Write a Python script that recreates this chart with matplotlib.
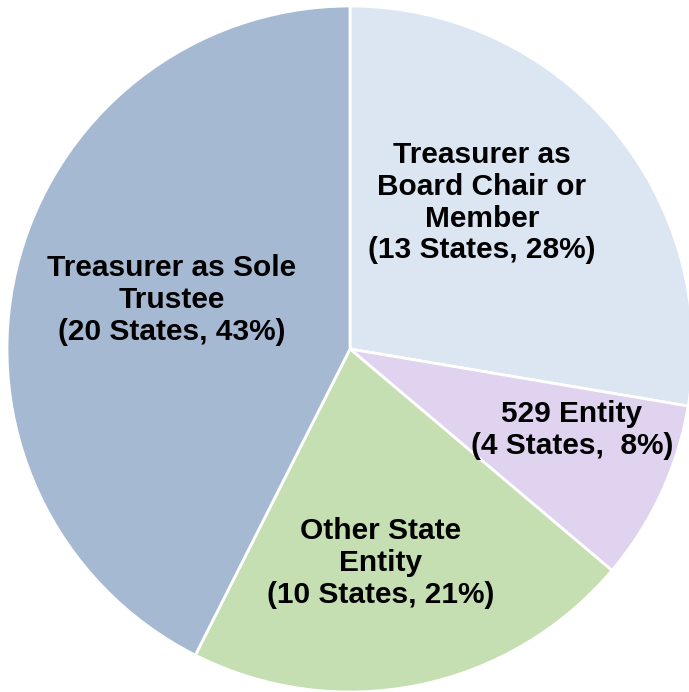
import matplotlib
matplotlib.use("Agg")
import matplotlib.pyplot as plt

categories = ["Treasurer as\nBoard Chair or\nMember", "529 Entity", "Other State\nEntity", "Treasurer as Sole\nTrustee"]
states = [13, 4, 10, 20]
pct_labels = ["(13 States, 28%)", "(4 States,  8%)", "(10 States, 21%)", "(20 States, 43%)"]
colors = ["#DCE6F2", "#DFD3EF", "#C5DFB2", "#A6B9D3"]
label_pos = [(0.385, 0.426), (0.647, -0.236), (0.090, -0.624), (-0.519, 0.143)]

plt.rcParams['font.family'] = ['Liberation Sans', 'DejaVu Sans']

fig = plt.figure(figsize=(6.89, 6.92), dpi=100)
ax = fig.add_axes([0, 0, 1, 1])
ax.pie(states, colors=colors, startangle=90, counterclock=False, radius=1.0,
       wedgeprops=dict(edgecolor="white", linewidth=2.0))
for cat, pl, (x, y) in zip(categories, pct_labels, label_pos):
    ax.text(x, y, cat + "\n" + pl, ha="center", va="center", fontsize=21.5,
            fontweight="bold", linespacing=1.17, color="black")
ax.set_xlim(-350/343, 339/343)
ax.set_ylim(-343/343, 349/343)
ax.set_aspect("auto")
ax.axis("off")
fig.savefig("out.png", dpi=100)
